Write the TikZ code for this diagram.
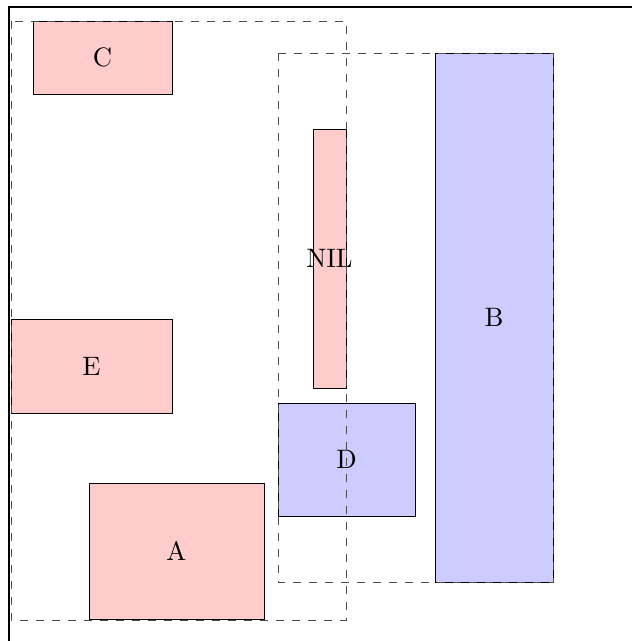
\documentclass[tikz,border=0pt]{standalone}
\usepackage{tikz}
\usetikzlibrary{positioning, calc}

\begin{document}
\begin{tikzpicture}[
    x=0.375pt, y=-0.375pt,
    % --- STYLES ---
    leaf/.style={
        rectangle, draw=black, fill=red!20,
        inner sep=0pt, line width=0.35pt
    },
    bigleaf/.style={
        rectangle, draw=black, fill=blue!20,
        inner sep=0pt, line width=0.35pt
    },
    region/.style={draw=black!70, dashed, line width=0.35pt},
    frame/.style={thick, black}
]

% ===== 1. CANVAS =====
\useasboundingbox (0,0) rectangle (632,641);
\draw[frame] (9,641) -- (9,7) -- (632,7);

% ===== 2. BOXES =====
\node[leaf, minimum width=52.13pt, minimum height=27.38pt] (C) at (102.5,57.5) {C};
\node[leaf, minimum width=60.38pt, minimum height=35.25pt] (E) at (91.5,366) {E};
\node[leaf, minimum width=65.63pt, minimum height=51pt] (A) at (176.5,551) {A};
\node[leaf, minimum width=12.38pt, minimum height=97.13pt] (nil) at (329.5,258.5) {\makebox[0pt]{NIL}};

\node[bigleaf, minimum width=51.38pt, minimum height=42.38pt] (D) at (346.5,459.5) {D};
\node[bigleaf, minimum width=44.25pt, minimum height=198.38pt] (B) at (494,317.5) {B};

% ===== 3. DASHED REGIONS =====
\draw[region] (11,21) rectangle (346,620);
\draw[region] (278,53) rectangle (553,582);

\end{tikzpicture}
\end{document}
